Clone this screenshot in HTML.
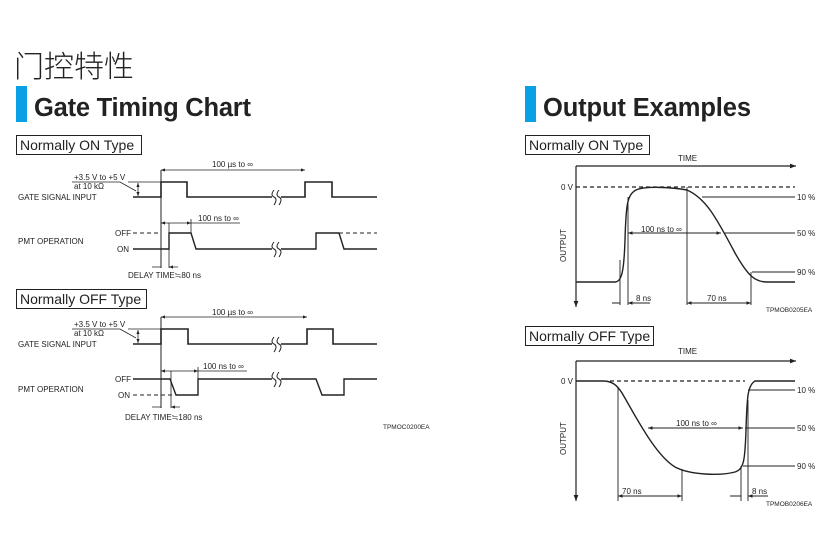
<!DOCTYPE html>
<html><head><meta charset="utf-8"><style>
html,body{margin:0;padding:0;background:#fff;}
svg{display:block;}
text{font-family:"Liberation Sans",Arial,sans-serif;fill:#222;}
</style></head><body>
<svg width="839" height="554" viewBox="0 0 839 554" xmlns="http://www.w3.org/2000/svg">
<defs>
<marker id="a" viewBox="0 0 10 10" refX="10" refY="5" markerWidth="5" markerHeight="5" orient="auto-start-reverse"><path d="M0,1 L10,5 L0,9 z" fill="#222"/></marker>
</defs>
<text x="14" y="77" font-size="30" style="font-family:'Liberation Sans','Noto Sans CJK SC',sans-serif;font-weight:300" fill="#222">门控特性</text>
<rect x="16" y="86" width="11" height="36" fill="#0aa0e6"/>
<text x="34" y="116" font-size="25.5" font-weight="bold" fill="#111" textLength="217">Gate Timing Chart</text>
<rect x="525" y="86" width="11" height="36" fill="#0aa0e6"/>
<text x="543" y="116" font-size="25.5" font-weight="bold" fill="#111" textLength="208">Output Examples</text>

<g fill="none" stroke="#222" stroke-width="1.3">
<rect x="16.5" y="135.5" width="125" height="19" stroke-width="1"/>
<rect x="16.5" y="289.5" width="130" height="19" stroke-width="1"/>
<rect x="525.5" y="135.5" width="124" height="19" stroke-width="1"/>
<rect x="525.5" y="326.5" width="128" height="19" stroke-width="1"/>

<path d="M133,197 H161 V182 H187 V197 H305 V182 H332 V197 H377" stroke-width="1.6"/>
<path d="M161,170 V268" stroke-width="1"/>
<path d="M72,182 H120 L136,191" stroke-width="0.8"/>
<path d="M128,182 H161" stroke-width="0.8"/>
<path d="M138,183 V196" stroke-width="0.8" marker-start="url(#a)" marker-end="url(#a)"/>
<path d="M161,170 H305" stroke-width="0.8" marker-start="url(#a)" marker-end="url(#a)"/>
<path d="M133,249 H169 V233 H191 L196,249 H316 V233 H339 L344,249 H377" stroke-width="1.4"/>
<path d="M133,233 H158 M339,233 H377" stroke-dasharray="4,3" stroke-width="1"/>
<path d="M169,223 V268" stroke-width="0.8"/>
<path d="M191,219 V233" stroke-width="0.8"/>
<path d="M161,223 H191" stroke-width="0.8" marker-start="url(#a)" marker-end="url(#a)"/>
<path d="M191,223 H240" stroke-width="0.8"/>
<path d="M152,267 H161 M178,267 H169" stroke-width="0.8" marker-end="url(#a)"/>

<path d="M133,344 H161 V329 H188 V344 H307 V329 H333 V344 H377" stroke-width="1.6"/>
<path d="M161,317 V408" stroke-width="1"/>
<path d="M72,329 H120 L136,338" stroke-width="0.8"/>
<path d="M128,329 H161" stroke-width="0.8"/>
<path d="M138,330 V343" stroke-width="0.8" marker-start="url(#a)" marker-end="url(#a)"/>
<path d="M161,317 H307" stroke-width="0.8" marker-start="url(#a)" marker-end="url(#a)"/>
<path d="M133,379 H170 L176,395 H198 V379 H316 L322,395 H344 V379 H377" stroke-width="1.4"/>
<path d="M133,395 H172" stroke-dasharray="4,3" stroke-width="1"/>
<path d="M171,371 V408" stroke-width="0.8"/>
<path d="M161,371 H198" stroke-width="0.8" marker-start="url(#a)" marker-end="url(#a)"/>
<path d="M198,367 V379 M198,371 H247" stroke-width="0.8"/>
<path d="M152,407 H161 M180,407 H171" stroke-width="0.8" marker-end="url(#a)"/>
</g>
<rect x="272" y="195" width="9" height="4" fill="#fff"/>
<rect x="272" y="247" width="9" height="4" fill="#fff"/>
<rect x="272" y="342" width="9" height="4" fill="#fff"/>
<rect x="272" y="377" width="9" height="4" fill="#fff"/>
<g fill="none" stroke="#222" stroke-width="1">
<path d="M274,190 q-4,5 0,7 q4,2 0,8 M279,190 q-4,5 0,7 q4,2 0,8"/>
<path d="M274,242 q-4,5 0,7 q4,2 0,8 M279,242 q-4,5 0,7 q4,2 0,8"/>
<path d="M274,337 q-4,5 0,7 q4,2 0,8 M279,337 q-4,5 0,7 q4,2 0,8"/>
<path d="M274,372 q-4,5 0,7 q4,2 0,8 M279,372 q-4,5 0,7 q4,2 0,8"/>
</g>

<g font-size="14"><text x="20" y="150">Normally ON Type</text><text x="20" y="304">Normally OFF Type</text>
<text x="529" y="150">Normally ON Type</text><text x="529" y="341">Normally OFF Type</text></g>
<g font-size="8">
<text x="212" y="167">100 µs to ∞</text>
<text x="74" y="180">+3.5 V to +5 V</text><text x="74" y="189">at 10 kΩ</text>
<text x="18" y="200">GATE SIGNAL INPUT</text>
<text x="198" y="221">100 ns to ∞</text>
<text x="115" y="236">OFF</text><text x="117" y="252">ON</text>
<text x="18" y="244">PMT OPERATION</text>
<text x="128" y="278">DELAY TIME≒80 ns</text>
<text x="212" y="315">100 µs to ∞</text>
<text x="74" y="327">+3.5 V to +5 V</text><text x="74" y="336">at 10 kΩ</text>
<text x="18" y="347">GATE SIGNAL INPUT</text>
<text x="203" y="369">100 ns to ∞</text>
<text x="115" y="382">OFF</text><text x="118" y="398">ON</text>
<text x="18" y="392">PMT OPERATION</text>
<text x="125" y="420">DELAY TIME≒180 ns</text>
<text x="383" y="429" font-size="6.5">TPMOC0200EA</text>
</g>

<g fill="none" stroke="#222" stroke-width="1.2">
<path d="M576,166 H796" marker-end="url(#a)"/>
<path d="M576,166 V307" marker-end="url(#a)"/>
<path d="M576,187 H795" stroke-dasharray="4,3"/>
<path d="M576,282 H615 C622,282 624,270 625,240 C626,205 627,195 636,190 C645,186 670,187 687,190 C705,198 715,215 735,253 C748,276 755,282 767,282 H795" stroke-width="1.4"/>
<path d="M702,197 H795 M724,233 H795 M752,272 H795" stroke-width="1"/>
<path d="M620,260 V305 M628,197 V305 M687,187 V305 M751,272 V305" stroke-width="0.9"/>
<path d="M628,233 H721" stroke-width="0.9" marker-start="url(#a)" marker-end="url(#a)"/>
<path d="M612,303 H620 M640,303 H628" stroke-width="0.9" marker-end="url(#a)"/>
<path d="M628,303 H650" stroke-width="0.9"/>
<path d="M687,303 H751" stroke-width="0.9" marker-start="url(#a)" marker-end="url(#a)"/>
</g>
<g font-size="8">
<text x="678" y="161">TIME</text><text x="561" y="190">0 V</text>
<text x="797" y="200">10 %</text><text x="797" y="236">50 %</text><text x="797" y="275">90 %</text>
<text x="641" y="232">100 ns to ∞</text>
<text x="636" y="301">8 ns</text><text x="707" y="301">70 ns</text>
<text x="766" y="312" font-size="6.5">TPMOB0205EA</text>
<text transform="translate(566,262) rotate(-90)">OUTPUT</text>
</g>

<g fill="none" stroke="#222" stroke-width="1.2">
<path d="M576,361 H796" marker-end="url(#a)"/>
<path d="M576,361 V501" marker-end="url(#a)"/>
<path d="M610,381 H745" stroke-dasharray="4,3"/>
<path d="M576,381 H603 C612,381 617,385 622,393 C635,415 655,455 675,467 C690,475 720,476 735,472 C744,469 745,460 746,430 C747,395 748,385 755,381 H795" stroke-width="1.4"/>
<path d="M748,390 H795 M745,428 H795 M743,466 H795" stroke-width="1"/>
<path d="M618,387 V501 M682,469 V501 M741,466 V501 M748,400 V501" stroke-width="0.9"/>
<path d="M648,428 H743" stroke-width="0.9" marker-start="url(#a)" marker-end="url(#a)"/>
<path d="M618,496 H682" stroke-width="0.9" marker-start="url(#a)" marker-end="url(#a)"/>
<path d="M730,496 H741 M760,496 H748" stroke-width="0.9" marker-end="url(#a)"/>
<path d="M748,496 H768" stroke-width="0.9"/>
</g>
<g font-size="8">
<text x="678" y="354">TIME</text><text x="561" y="384">0 V</text>
<text x="797" y="393">10 %</text><text x="797" y="431">50 %</text><text x="797" y="469">90 %</text>
<text x="676" y="426">100 ns to ∞</text>
<text x="622" y="494">70 ns</text><text x="752" y="494">8 ns</text>
<text x="766" y="506" font-size="6.5">TPMOB0206EA</text>
<text transform="translate(566,455) rotate(-90)">OUTPUT</text>
</g>
</svg>
</body></html>
